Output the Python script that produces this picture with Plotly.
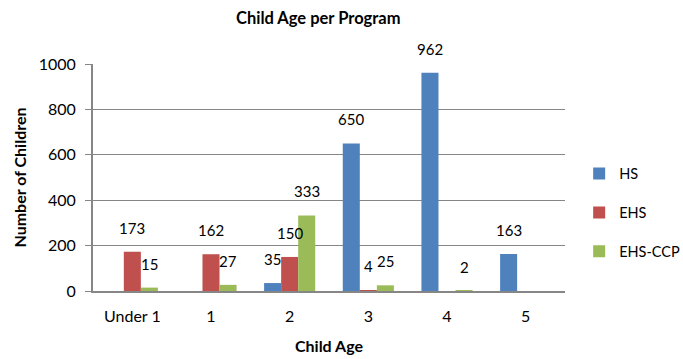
import plotly.graph_objects as go

categories = ["Under 1", "1", "2", "3", "4", "5"]
hs = [None, None, 35, 650, 962, 163]
ehs = [173, 162, 150, 4, None, None]
ehs_ccp = [15, 27, 333, 25, 2, None]

series = [("HS", hs, "#4F81BD"), ("EHS", ehs, "#C0504D"), ("EHS-CCP", ehs_ccp, "#9BBB59")]

FONT = "Lato"
fig = go.Figure()
for name, vals, col in series:
    fig.add_trace(go.Bar(name=name, x=categories, y=vals, marker_color=col,
                         marker_line_width=0, legendgroup=name))

bar_px = 17
annotations = []
for i, (name, vals, col) in enumerate(series):
    for c, v in zip(categories, vals):
        if v is None:
            continue
        annotations.append(dict(x=c, y=v, xref="x", yref="y", text=str(v),
                                showarrow=False, xshift=(i - 1) * bar_px,
                                yanchor="bottom", yshift=13,
                                font=dict(family=FONT, size=15, color="#000")))

fig.update_layout(
    width=683, height=359,
    margin=dict(l=93, r=118, t=64, b=68, autoexpand=False),
    paper_bgcolor="white", plot_bgcolor="white",
    barmode="group", bargap=0.35, bargroupgap=0,
    title=dict(text="<b>Child Age per Program</b>", x=0.466, xanchor="center",
               y=0.95, yanchor="middle", xref="container",
               font=dict(family=FONT, size=16.5, color="#000")),
    font=dict(family=FONT, size=14, color="#000"),
    annotations=annotations,
    legend=dict(x=1.03, y=0.345, yanchor="middle", xanchor="left",
                font=dict(family=FONT, size=14.5, color="#000"),
                traceorder="grouped", tracegroupgap=17, itemwidth=30),
    xaxis=dict(title=dict(text="<b>Child Age</b>", font=dict(family=FONT, size=16), standoff=17),
               showline=True, linecolor="#868686", linewidth=2, ticks="",
               ticklabelstandoff=10,
               tickfont=dict(family=FONT, size=16)),
    yaxis=dict(title=dict(text="<b>Number of Children</b>", font=dict(family=FONT, size=16), standoff=8),
               range=[0, 1000], dtick=200, showline=True, linecolor="#868686", linewidth=2,
               gridcolor="#868686", gridwidth=1, ticks="outside", ticklen=6, tickcolor="#868686",
               ticklabelstandoff=6,
               zeroline=False, tickfont=dict(family=FONT, size=16)),
)
fig.write_html("out.html")
